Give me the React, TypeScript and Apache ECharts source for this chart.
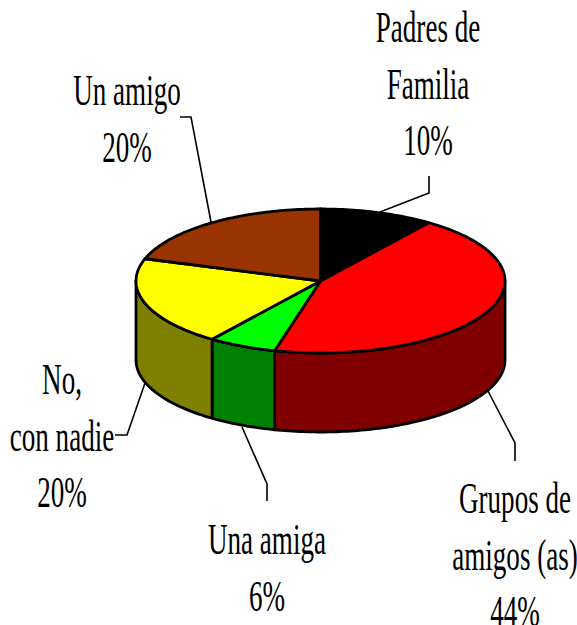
import React, { useEffect, useRef } from "react";
import * as echarts from "echarts";

const categories = ["Padres de Familia", "Grupos de amigos (as)", "Una amiga", "No, con nadie", "Un amigo"];
const values = [10, 44, 6, 20, 20];
const labelLines = [["Padres de", "Familia"], ["Grupos de", "amigos (as)"], ["Una amiga"], ["No,", "con nadie"], ["Un amigo"]];
const topColors = ["#000000", "#ff0000", "#00ff00", "#ffff00", "#993300"];
const sideColors = ["#000000", "#800000", "#008000", "#808000", "#993300"];

// Layout only
const CX = 320.5, CY = 281, RX = 184.5, RY = 72, DEPTH = 79;
const labelCenters = [[428, 27], [515, 498], [267, 539], [62, 379], [127, 90]];
const lineGap = 56.5;
const leaders = [
  [[429, 176], [429, 193], [380, 212]],
  [[488, 391], [515, 443], [515, 461]],
  [[242, 427], [267, 484], [267, 501]],
  [[145, 383], [127, 435], [115, 435]],
  [[180, 117], [191, 117], [211, 222]],
];
const FONT_SIZE = 44, SCALE_X = 0.615;

const total = values.reduce((a, b) => a + b, 0);
const pt = (t: number, dy = 0) => [CX + RX * Math.sin(t), CY - RY * Math.cos(t) + dy];

function arcPoints(a: number, b: number, dy = 0) {
  const n = Math.max(2, Math.ceil((b - a) / 0.02));
  const out: number[][] = [];
  for (let i = 0; i <= n; i++) out.push(pt(a + ((b - a) * i) / n, dy));
  return out;
}

function renderItem(_params: any, api: any) {
  const idx = api.value(1);
  let before = 0;
  for (let i = 0; i < idx; i++) before += values[i];
  const a = (before / total) * Math.PI * 2;
  const b = ((before + api.value(0)) / total) * Math.PI * 2;
  const children: any[] = [];
  const sa = Math.max(a, Math.PI / 2), sb = Math.min(b, (Math.PI * 3) / 2);
  const stroke = { stroke: "#000", lineWidth: 2.8, lineJoin: "round" };
  if (sb > sa) {
    children.push({
      type: "polygon",
      shape: { points: [...arcPoints(sa, sb), ...arcPoints(sa, sb, DEPTH).reverse()] },
      style: { fill: sideColors[idx], ...stroke },
    });
  }
  children.push({
    type: "polygon",
    shape: { points: [[CX, CY], ...arcPoints(a, b)] },
    style: { fill: topColors[idx], ...stroke },
  });
  return { type: "group", children };
}

export default function App() {
  const ref = useRef<HTMLDivElement>(null);
  useEffect(() => {
    const chart = echarts.init(ref.current!, undefined, { renderer: "svg" });
    const graphic: any[] = [];
    leaders.forEach((pts) =>
      graphic.push({
        type: "polyline",
        shape: { points: pts },
        style: { stroke: "#000", lineWidth: 1.6, fill: "none" },
      })
    );
    categories.forEach((_, i) => {
      const lines = [...labelLines[i], `${values[i]}%`];
      lines.forEach((text, j) =>
        graphic.push({
          type: "text",
          x: labelCenters[i][0],
          y: labelCenters[i][1] + j * lineGap,
          scaleX: SCALE_X,
          style: {
            text,
            fill: "#000",
            font: `${FONT_SIZE}px "Liberation Serif"`,
            textAlign: "center",
            textVerticalAlign: "middle",
          },
        })
      );
    });
    chart.setOption({
      animation: false,
      backgroundColor: "#fff",
      graphic,
      series: [
        {
          type: "custom",
          coordinateSystem: "none",
          renderItem,
          data: values.map((v, i) => ({ name: categories[i], value: [v, i] })),
        },
      ],
    });
    return () => chart.dispose();
  }, []);
  return <div ref={ref} style={{ position: "absolute", left: 0, top: 0, width: 577, height: 625 }} />;
}
